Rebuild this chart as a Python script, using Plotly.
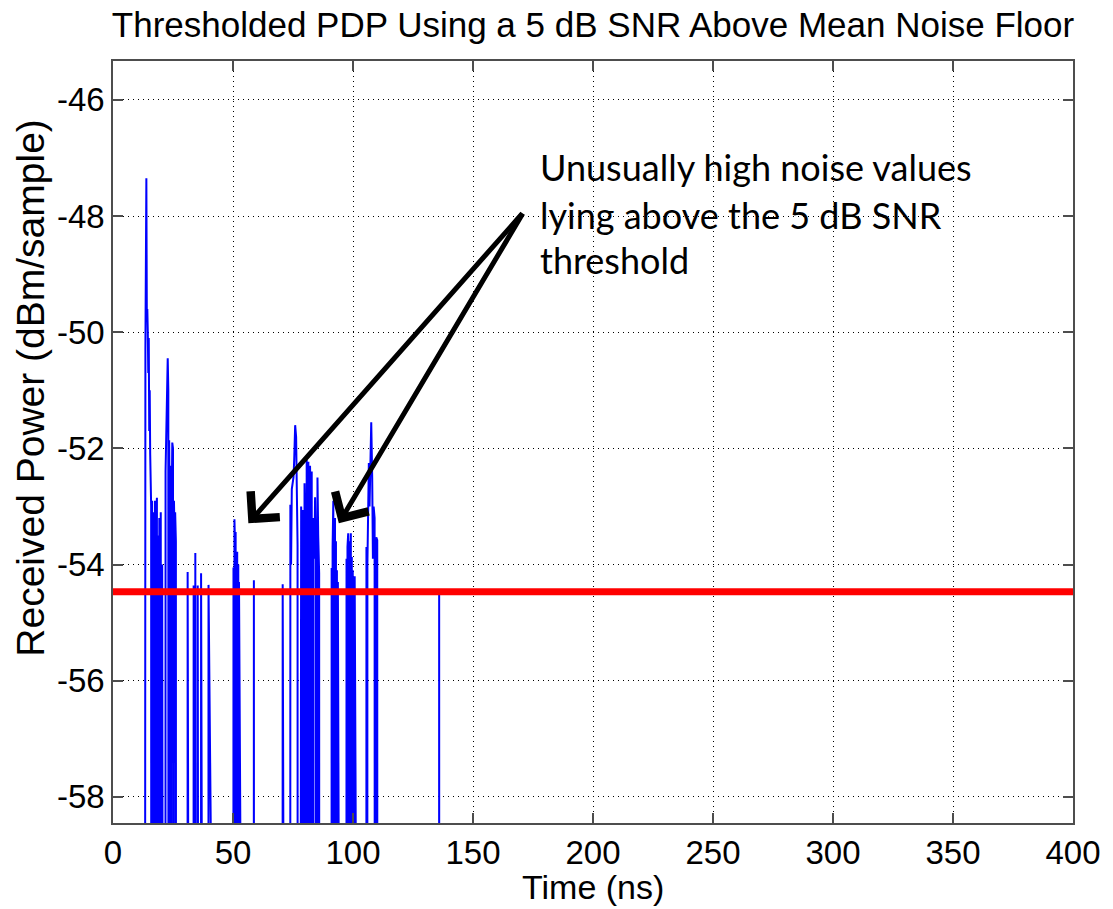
import plotly.graph_objects as go

# ---------------- data ----------------
BELOW = -100.0          # sample under the threshold -> drawn off the bottom of the axes
THRESHOLD_DBM = -54.47  # 5 dB SNR above mean noise floor

x_ticks = [0, 50, 100, 150, 200, 250, 300, 350, 400]
y_ticks = [-58, -56, -54, -52, -50, -48, -46]

time_ns = [
    12.9, 13.2, 13.5, 13.9, 14.1, 14.3, 14.5, 14.7, 14.9, 15.1, 15.3, 15.5,
    15.7, 15.9, 16.1, 16.3, 16.5, 16.7, 16.9, 17.1, 17.3, 17.5, 17.7, 17.9, 18.1, 18.3,
    18.5, 18.7, 18.9, 19.1, 19.3, 19.5, 19.7, 19.9, 20.1, 20.3, 20.5, 20.7,
    21.7, 21.9, 22.2, 22.5, 22.8, 23.05, 23.25, 23.4, 23.6, 23.8, 24.0, 24.2, 24.4, 24.7,
    25.0, 25.2, 25.4, 25.6, 25.9, 26.2, 26.5,
    30.9, 31.1, 31.3,
    33.4, 33.6, 33.95, 34.3, 34.6,
    35.1, 35.3, 35.5,
    36.5, 36.7, 36.9,
    39.6, 39.8, 40.0,
    50.0, 50.2, 50.4, 50.6, 50.8, 50.95, 51.1, 51.3, 51.45, 51.6, 51.75, 51.9, 52.05,
    52.2, 52.35, 52.5, 52.65,
    58.5, 58.7, 58.9,
    70.5, 70.7, 70.9,
    73.7, 73.9, 74.2, 74.5, 74.9, 75.2, 75.5, 75.9, 76.3, 76.7, 76.9, 77.1,
    78.2, 78.4, 78.7, 79.0, 79.2, 79.5, 79.8, 80.1, 80.4, 80.7, 81.0, 81.4, 81.7, 81.9,
    82.1, 82.4, 82.8, 83.1, 83.3, 83.5, 83.9, 84.2, 84.5, 84.7, 84.9, 85.2, 85.5, 85.9,
    86.1,
    90.9, 91.1, 91.3, 91.5, 91.8, 92.0, 92.2, 92.5, 92.7, 92.9, 93.1, 93.3, 93.5, 93.7,
    93.9,
    97.1, 97.3, 97.5, 97.7, 98.0, 98.2, 98.4, 98.6, 98.8, 99.1, 99.3, 99.5, 99.7, 99.9,
    100.1, 100.3, 100.5, 100.7, 100.9,
    105.4, 105.6, 105.8, 106.0, 106.2, 106.6, 106.9, 107.2, 107.6, 108.0, 108.3, 108.6,
    109.0, 109.3, 109.5, 109.7, 110.1, 110.3,
    135.7, 135.9, 136.1,
]

power_dbm = [
    BELOW, -51.85, -50.3, -47.35, -49.8, -49.6, -50.0, -50.7, -50.1, -51.7, -51.0, -52.1,
    -52.9, -53.0, BELOW, -52.9, -53.4, BELOW, -53.1, -53.6, BELOW, -52.9, -53.3, BELOW, -53.0, -52.85,
    BELOW, -53.5, -53.9, BELOW, -53.2, -53.4, BELOW, -53.1, -53.7, BELOW, -54.0, BELOW,
    BELOW, -52.4, -51.6, -50.9, -50.45, -51.0, BELOW, -51.86, -52.9, -52.3, BELOW, -52.5, -53.2, -51.9,
    -52.0, BELOW, -52.9, -53.4, -53.1, -53.6, BELOW,
    BELOW, -54.13, BELOW,
    BELOW, -54.36, BELOW, -53.8, BELOW,
    BELOW, -54.36, BELOW,
    BELOW, -54.15, BELOW,
    BELOW, -54.35, BELOW,
    BELOW, -54.05, BELOW, -53.22, -53.6, BELOW, -53.44, -54.1, BELOW, -53.9, -53.78, BELOW, -54.2,
    -54.0, BELOW, -54.3, BELOW,
    BELOW, -54.27, BELOW,
    BELOW, -54.34, BELOW,
    BELOW, -52.97, -54.0, -52.7, -52.6, -52.5, -52.2, -51.6, -51.8, -53.4, -53.66, BELOW,
    BELOW, -53.0, -53.6, -53.06, BELOW, -53.3, -52.6, -53.5, BELOW, -52.2, -53.4, -52.23, -53.7, BELOW,
    -52.3, -53.1, -52.4, -53.8, BELOW, -53.2, -53.9, -52.84, -53.6, BELOW, -53.3, -52.5, -53.5, -54.15,
    BELOW,
    BELOW, -54.06, BELOW, -53.7, -52.9, BELOW, -53.4, -53.2, BELOW, -53.6, BELOW, -54.1, BELOW, -54.3,
    BELOW,
    BELOW, -53.9, BELOW, -53.7, -53.46, BELOW, -53.6, BELOW, -53.9, -53.46, BELOW, -53.87, BELOW, -54.1,
    BELOW, -54.3, BELOW, -54.2, BELOW,
    BELOW, -53.7, BELOW, -54.0, -53.15, -52.25, -53.0, -52.3, -51.55, -52.5, -53.9, -53.0,
    -53.2, BELOW, -53.9, -53.53, -53.58, BELOW,
    BELOW, -54.45, BELOW,
]

note_lines = [
    "Unusually high noise values",
    "lying above the 5 dB SNR",
    "threshold",
]
# arrows: tail (shared) and two heads, in data units
arrow_tail = (171.1, -47.93)
arrow_heads = [(56.4, -53.29), (94.1, -53.29)]

X_RANGE = [0, 400]
Y_RANGE = [-58.45, -45.33]

# ---------------- figure ----------------
AX_FONT = "Liberation Sans, Arial, sans-serif"

fig = go.Figure()
fig.add_trace(go.Scatter(
    x=time_ns, y=power_dbm, mode="lines",
    line=dict(color="rgb(0,0,255)", width=2),
    hoverinfo="skip", showlegend=False,
))

fig.add_shape(type="line", xref="x", yref="y",
              x0=X_RANGE[0], x1=X_RANGE[1], y0=THRESHOLD_DBM, y1=THRESHOLD_DBM,
              line=dict(color="rgb(255,0,0)", width=7), layer="above")

for hx, hy in arrow_heads:
    fig.add_annotation(x=hx, y=hy, ax=arrow_tail[0], ay=arrow_tail[1],
                       xref="x", yref="y", axref="x", ayref="y",
                       text="", showarrow=True, arrowhead=4, arrowsize=1.5,
                       arrowwidth=5, arrowcolor="black")

line_y_px = [167, 215, 260]
for txt, ypx in zip(note_lines, line_y_px):
    fig.add_annotation(x=(542 - 113) / 968, y=(823 - ypx) / 762,
                       xref="paper", yref="paper", xanchor="left", yanchor="middle",
                       text=txt, showarrow=False,
                       font=dict(family="Lato, Carlito, sans-serif", size=36, color="black"))

# axis titles as annotations for exact placement
fig.add_annotation(x=0.5, y=(823 - 887) / 762, xref="paper", yref="paper",
                   xanchor="center", yanchor="middle", text="Time (ns)", showarrow=False,
                   font=dict(family=AX_FONT, size=34, color="black"))
fig.add_annotation(x=(29 - 113) / 968, y=(823 - 388) / 762, xref="paper", yref="paper",
                   xanchor="center", yanchor="middle", text="Received Power (dBm/sample)",
                   textangle=-90, showarrow=False,
                   font=dict(family=AX_FONT, size=39, color="black"))

axis_common = dict(
    showline=True, linecolor="#4d4d4d", linewidth=1.5, mirror="ticks",
    ticks="inside", ticklen=10, tickcolor="#4d4d4d", tickwidth=1.5,
    showgrid=True, gridcolor="black", gridwidth=1, griddash="1px,4px",
    zeroline=False, tickfont=dict(family=AX_FONT, size=33, color="black"),
)

fig.update_layout(
    width=1113, height=909,
    margin=dict(l=113, r=32, t=61, b=86),
    paper_bgcolor="white", plot_bgcolor="white",
    title=dict(text="Thresholded PDP Using a 5 dB SNR Above Mean Noise Floor",
               x=0.5, xref="paper", xanchor="center",
               y=1 - 25 / 909, yref="container", yanchor="middle",
               font=dict(family=AX_FONT, size=35, color="black")),
    xaxis=dict(range=X_RANGE, tickvals=x_ticks, ticktext=[str(v) for v in x_ticks], **axis_common),
    yaxis=dict(range=Y_RANGE, tickvals=y_ticks, ticktext=[str(v) for v in y_ticks], **axis_common),
)

fig.write_html("out.html")
